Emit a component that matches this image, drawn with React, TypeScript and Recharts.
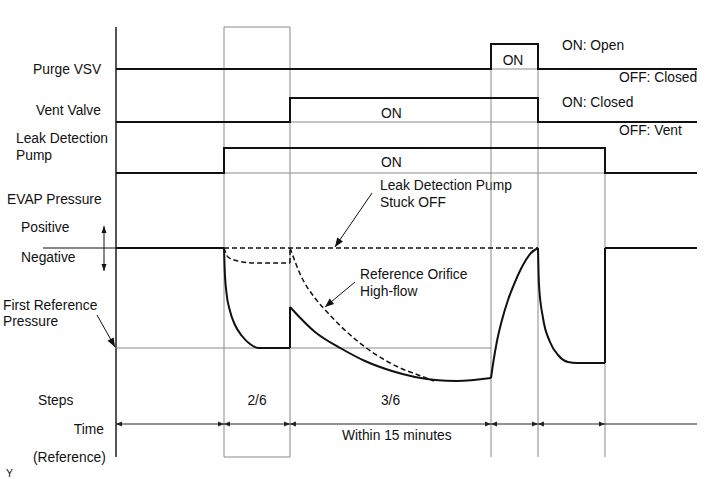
import { ComposedChart, Line, XAxis, YAxis } from 'recharts';

const W = 711;
const H = 479;
const ORIGIN = 116; // pixel column where t = 0 sits

// phase edges on the time axis
const phaseEdges = [0, 108, 174, 375, 422, 489, 581];
const stepLabels = [
  { from: 108, to: 174, text: '2/6' },
  { from: 174, to: 375, text: '3/6' },
];

// switching signals, 0 = OFF, 1 = ON
const purgeVsv = [
  { t: 0, v: 0 }, { t: 375, v: 0 }, { t: 375, v: 1 }, { t: 422, v: 1 }, { t: 422, v: 0 }, { t: 581, v: 0 },
];
const ventValve = [
  { t: 0, v: 0 }, { t: 174, v: 0 }, { t: 174, v: 1 }, { t: 422, v: 1 }, { t: 422, v: 0 }, { t: 581, v: 0 },
];
const leakPump = [
  { t: 0, v: 0 }, { t: 108, v: 0 }, { t: 108, v: 1 }, { t: 489, v: 1 }, { t: 489, v: 0 }, { t: 581, v: 0 },
];
const purgeOffRef = [{ t: 375, v: 0 }, { t: 422, v: 0 }];
const ventOffRef = [{ t: 174, v: 0 }, { t: 422, v: 0 }];
const pumpOffRef = [{ t: 108, v: 0 }, { t: 489, v: 0 }];

// EVAP pressure, 0 = atmosphere, -1 = first reference pressure
const atmLead = [{ t: -73, p: 0 }, { t: 0, p: 0 }];
const flatStart = [{ t: 0, p: 0 }, { t: 108, p: 0 }];
const pumpDown = [
  { t: 108, p: 0 }, { t: 108.7, p: -0.22 }, { t: 110.5, p: -0.45 }, { t: 114, p: -0.63 },
  { t: 119, p: -0.77 }, { t: 126, p: -0.88 }, { t: 134, p: -0.96 }, { t: 143, p: -1.0 }, { t: 174, p: -1.0 },
];
const ventJump = [{ t: 174, p: -1.0 }, { t: 174, p: -0.59 }];
const leakCheck = [
  { t: 174, p: -0.59 }, { t: 199, p: -0.84 }, { t: 226, p: -1.01 }, { t: 249, p: -1.13 },
  { t: 276, p: -1.23 }, { t: 299, p: -1.29 }, { t: 319, p: -1.32 }, { t: 341, p: -1.33 }, { t: 375, p: -1.3 },
];
const purgeRise = [
  { t: 375, p: -1.3 }, { t: 377.5, p: -1.13 }, { t: 381, p: -0.93 }, { t: 386, p: -0.72 },
  { t: 392, p: -0.52 }, { t: 399, p: -0.34 }, { t: 407, p: -0.17 }, { t: 415, p: -0.05 }, { t: 422, p: 0 },
];
const secondDown = [
  { t: 422, p: 0 }, { t: 423, p: -0.37 }, { t: 427, p: -0.7 }, { t: 434, p: -0.94 },
  { t: 442, p: -1.07 }, { t: 452, p: -1.14 }, { t: 461, p: -1.15 }, { t: 489, p: -1.15 },
];
const endJump = [{ t: 489, p: -1.15 }, { t: 489, p: 0 }];
const flatEnd = [{ t: 489, p: 0 }, { t: 581, p: 0 }];
const stuckOff = [{ t: 108, p: 0 }, { t: 422, p: 0 }];
const orificeA = [
  { t: 108, p: 0 }, { t: 112, p: -0.09 }, { t: 122, p: -0.13 }, { t: 139, p: -0.15 }, { t: 174, p: -0.15 },
];
const orificeJump = [{ t: 174, p: -0.15 }, { t: 174, p: 0 }];
const orificeB = [
  { t: 174, p: 0 }, { t: 186, p: -0.3 }, { t: 199, p: -0.5 }, { t: 212, p: -0.65 }, { t: 232, p: -0.85 },
  { t: 256, p: -1.04 }, { t: 282, p: -1.19 }, { t: 305, p: -1.28 }, { t: 318, p: -1.33 },
];
const firstRef = [{ t: 0, p: -1 }, { t: 375, p: -1 }];

// row placement: pixel rows for value 0 and value 1
const rows = {
  purge: { zero: 69, one: 44 },
  vent: { zero: 122, one: 98 },
  pump: { zero: 173, one: 148 },
  evap: { zero: 248, one: 148 },
};
const rowDomain = (r: { zero: number; one: number }) => {
  const u = r.zero - r.one;
  return [-(H - r.zero) / u, r.zero / u];
};

const INK = '#111';
const GRID = '#8a8a8a';
const FONT = '"Liberation Sans", Arial, sans-serif';
const FS = 13.8;

type P = { t: number; y: number };

const arrow = (key: string, a: P, b: P, both: boolean, len: number, half: number, color = INK) => {
  const ang = Math.atan2(b.y - a.y, b.t - a.t);
  const head = (props: any) => {
    const { cx, cy, index } = props;
    if (!(index === 1 || both)) return <g key={`${key}-d${index}`} />;
    const a2 = index === 1 ? ang : ang + Math.PI;
    const c = Math.cos(a2);
    const s = Math.sin(a2);
    const bx = cx - len * c;
    const by = cy - len * s;
    const pts = `${cx},${cy} ${bx - half * s},${by + half * c} ${bx + half * s},${by - half * c}`;
    return <polygon key={`${key}-d${index}`} points={pts} fill={color} stroke="none" />;
  };
  return (
    <Line
      key={key}
      data={[a, b]}
      dataKey="y"
      yAxisId="px"
      type="linear"
      stroke={color}
      strokeWidth={1}
      dot={head}
      activeDot={false}
      isAnimationActive={false}
    />
  );
};

const seg = (key: string, data: any[], axis: string, key2: string, opts: any = {}) => (
  <Line
    key={key}
    data={data}
    dataKey={key2}
    yAxisId={axis}
    type={opts.type ?? 'linear'}
    stroke={opts.stroke ?? INK}
    strokeWidth={opts.width ?? 2}
    strokeDasharray={opts.dash}
    dot={false}
    activeDot={false}
    isAnimationActive={false}
  />
);

const frame: { key: string; data: P[]; color: string; width: number }[] = [
  { key: 'box-l', data: [{ t: 108, y: 27 }, { t: 108, y: 457 }], color: GRID, width: 1 },
  { key: 'box-r', data: [{ t: 174, y: 27 }, { t: 174, y: 457 }], color: GRID, width: 1 },
  { key: 'box-t', data: [{ t: 108, y: 27 }, { t: 174, y: 27 }], color: GRID, width: 1 },
  { key: 'box-b', data: [{ t: 108, y: 457 }, { t: 174, y: 457 }], color: GRID, width: 1 },
  { key: 'v-375', data: [{ t: 375, y: 44 }, { t: 375, y: 457 }], color: GRID, width: 1 },
  { key: 'v-422', data: [{ t: 422, y: 44 }, { t: 422, y: 457 }], color: GRID, width: 1 },
  { key: 'v-489', data: [{ t: 489, y: 148 }, { t: 489, y: 457 }], color: GRID, width: 1 },
  { key: 'axis', data: [{ t: 0, y: 27 }, { t: 0, y: 457 }], color: '#555', width: 2 },
];

const texts: { x: number; y: number; s: string; anchor?: 'start' | 'middle' | 'end'; size?: number }[] = [
  { x: 33, y: 69, s: 'Purge VSV' },
  { x: 36, y: 110, s: 'Vent Valve' },
  { x: 16, y: 138, s: 'Leak Detection' },
  { x: 16, y: 155, s: 'Pump' },
  { x: 7, y: 199, s: 'EVAP Pressure' },
  { x: 21, y: 227, s: 'Positive' },
  { x: 21, y: 257, s: 'Negative' },
  { x: 3, y: 305, s: 'First Reference' },
  { x: 3, y: 321, s: 'Pressure' },
  { x: 38, y: 400, s: 'Steps' },
  { x: 104, y: 429, s: 'Time', anchor: 'end' },
  { x: 33, y: 457, s: '(Reference)' },
  { x: 6, y: 473, s: 'Y', size: 10.5 },
  { x: 562, y: 45, s: 'ON: Open' },
  { x: 619, y: 77, s: 'OFF: Closed' },
  { x: 562, y: 102, s: 'ON: Closed' },
  { x: 619, y: 130, s: 'OFF: Vent' },
  { x: 513, y: 60, s: 'ON', anchor: 'middle' },
  { x: 381, y: 113, s: 'ON' },
  { x: 381, y: 162, s: 'ON' },
  { x: 380, y: 185, s: 'Leak Detection Pump' },
  { x: 380, y: 202, s: 'Stuck OFF' },
  { x: 360, y: 274, s: 'Reference Orifice' },
  { x: 360, y: 291, s: 'High-flow' },
  { x: 342, y: 435, s: 'Within 15 minutes' },
];

const DIM_Y = 424;

export default function App() {
  const dims = phaseEdges.slice(0, -2).map((e, i) =>
    arrow(`dim-${i}`, { t: e, y: DIM_Y }, { t: phaseEdges[i + 1], y: DIM_Y }, true, 6, 2.5, '#222'),
  );
  return (
    <div style={{ position: 'absolute', left: 0, top: 0, width: W, height: H, background: '#fff' }}>
      <ComposedChart width={W} height={H} margin={{ top: 0, right: 0, bottom: 0, left: 0 }}>
        <XAxis dataKey="t" type="number" domain={[-ORIGIN, W - ORIGIN]} hide allowDataOverflow />
        <YAxis yAxisId="px" type="number" domain={[0, H]} reversed hide allowDataOverflow />
        <YAxis yAxisId="purge" type="number" domain={rowDomain(rows.purge)} hide allowDataOverflow />
        <YAxis yAxisId="vent" type="number" domain={rowDomain(rows.vent)} hide allowDataOverflow />
        <YAxis yAxisId="pump" type="number" domain={rowDomain(rows.pump)} hide allowDataOverflow />
        <YAxis yAxisId="evap" type="number" domain={rowDomain(rows.evap)} hide allowDataOverflow />

        {frame.map((f) => seg(f.key, f.data, 'px', 'y', { stroke: f.color, width: f.width }))}

        {seg('purge-off', purgeOffRef, 'purge', 'v', { stroke: GRID, width: 1 })}
        {seg('vent-off', ventOffRef, 'vent', 'v', { stroke: GRID, width: 1 })}
        {seg('pump-off', pumpOffRef, 'pump', 'v', { stroke: GRID, width: 1 })}
        {seg('first-ref', firstRef, 'evap', 'p', { stroke: GRID, width: 1 })}
        {seg('atm-lead', atmLead, 'evap', 'p', { width: 1 })}

        {seg('purge', purgeVsv, 'purge', 'v')}
        {seg('vent', ventValve, 'vent', 'v')}
        {seg('pump', leakPump, 'pump', 'v')}

        {seg('stuck', stuckOff, 'evap', 'p', { width: 1.5, dash: '5 3' })}
        {seg('orifice-a', orificeA, 'evap', 'p', { width: 1.5, dash: '5 3', type: 'monotone' })}
        {seg('orifice-j', orificeJump, 'evap', 'p', { width: 1.5, dash: '5 3' })}
        {seg('orifice-b', orificeB, 'evap', 'p', { width: 1.5, dash: '5 3', type: 'monotone' })}

        {seg('flat-start', flatStart, 'evap', 'p')}
        {seg('pump-down', pumpDown, 'evap', 'p', { type: 'monotone' })}
        {seg('vent-jump', ventJump, 'evap', 'p')}
        {seg('leak-check', leakCheck, 'evap', 'p', { type: 'monotone' })}
        {seg('purge-rise', purgeRise, 'evap', 'p', { type: 'monotone' })}
        {seg('second-down', secondDown, 'evap', 'p', { type: 'monotone' })}
        {seg('end-jump', endJump, 'evap', 'p')}
        {seg('flat-end', flatEnd, 'evap', 'p')}

        {seg('dim-tail', [{ t: 489, y: DIM_Y }, { t: 581, y: DIM_Y }], 'px', 'y', { stroke: '#222', width: 1 })}
        {dims}

        {arrow('ann-stuck', { t: 256, y: 193 }, { t: 219, y: 247 }, false, 9, 3.5)}
        {arrow('ann-orifice', { t: 239, y: 282 }, { t: 209, y: 307 }, false, 9, 3.5)}
        {arrow('ann-first', { t: -19, y: 315 }, { t: -1, y: 347 }, false, 9, 3.5)}
        {arrow('ann-posneg', { t: -12, y: 226 }, { t: -12, y: 271 }, true, 7, 2.5)}

        {texts.map((tx) => (
          <text
            key={tx.s + tx.y}
            x={tx.x}
            y={tx.y}
            textAnchor={tx.anchor ?? 'start'}
            dominantBaseline="central"
            fontFamily={FONT}
            fontSize={tx.size ?? FS}
            fill={INK}
          >
            {tx.s}
          </text>
        ))}
        {stepLabels.map((s) => (
          <text
            key={s.text}
            x={ORIGIN + (s.from + s.to) / 2}
            y={400}
            textAnchor="middle"
            dominantBaseline="central"
            fontFamily={FONT}
            fontSize={FS}
            fill={INK}
          >
            {s.text}
          </text>
        ))}
      </ComposedChart>
    </div>
  );
}
